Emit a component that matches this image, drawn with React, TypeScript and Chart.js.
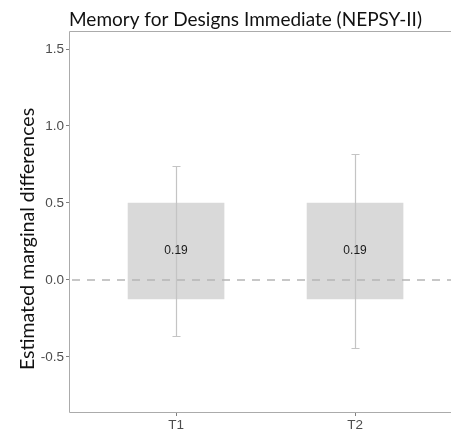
import React, { useEffect, useRef } from "react";
import { Chart, registerables } from "chart.js";

Chart.register(...registerables);

const categories = ["T1", "T2"];
const positions = [1, 2];
const boxLow = [-0.123, -0.123];
const boxHigh = [0.5, 0.5];
const ciLow = [-0.362, -0.444];
const ciHigh = [0.742, 0.82];
const estimates = [0.19, 0.19];
const estimateLabels = ["0.19", "0.19"];
const yTicks = [-0.5, 0, 0.5, 1.0, 1.5];

const titleText = "Memory for Designs Immediate (NEPSY-II)";
const yTitle = "Estimated marginal differences";

export default function App() {
  const ref = useRef<HTMLCanvasElement | null>(null);

  useEffect(() => {
    if (!ref.current) return;

    const decor = {
      id: "decor",
      beforeDatasetsDraw(chart: any) {
        const { ctx, chartArea } = chart;
        ctx.save();
        ctx.strokeStyle = "#ababab";
        ctx.lineWidth = 1;
        ctx.beginPath();
        ctx.moveTo(chartArea.right + 5, chartArea.top + 0.5);
        ctx.lineTo(chartArea.left + 0.5, chartArea.top + 0.5);
        ctx.lineTo(chartArea.left + 0.5, chartArea.bottom - 0.5);
        ctx.lineTo(chartArea.right + 5, chartArea.bottom - 0.5);
        ctx.stroke();
        ctx.restore();
      },
      afterDatasetsDraw(chart: any) {
        const { ctx, chartArea, scales } = chart;
        const x = scales.x;
        const y = scales.y;
        ctx.save();
        // dashed zero line
        ctx.strokeStyle = "#b5b5b5";
        ctx.lineWidth = 1.5;
        ctx.setLineDash([8, 7]);
        const y0 = y.getPixelForValue(0);
        ctx.beginPath();
        ctx.moveTo(chartArea.left + 3, y0);
        ctx.lineTo(chartArea.right, y0);
        ctx.stroke();
        ctx.setLineDash([]);
        // error bars
        ctx.strokeStyle = "#c4c4c4";
        ctx.lineWidth = 1.2;
        positions.forEach((p, i) => {
          const px = Math.round(x.getPixelForValue(p)) + 0.5;
          const yl = Math.round(y.getPixelForValue(ciLow[i])) + 0.5;
          const yh = Math.round(y.getPixelForValue(ciHigh[i])) + 0.5;
          ctx.beginPath();
          ctx.moveTo(px, yl);
          ctx.lineTo(px, yh);
          ctx.moveTo(px - 4, yl);
          ctx.lineTo(px + 4, yl);
          ctx.moveTo(px - 4, yh);
          ctx.lineTo(px + 4, yh);
          ctx.stroke();
        });
        // estimate labels
        ctx.fillStyle = "#1a1a1a";
        ctx.font = "12px 'Liberation Sans', Arial, sans-serif";
        ctx.textAlign = "center";
        ctx.textBaseline = "middle";
        positions.forEach((p, i) => {
          ctx.fillText(estimateLabels[i], x.getPixelForValue(p), y.getPixelForValue(estimates[i]));
        });
        // title
        ctx.fillStyle = "#111111";
        ctx.font = "19px Lato, 'Open Sans', sans-serif";
        ctx.textAlign = "left";
        ctx.textBaseline = "alphabetic";
        ctx.fillText(titleText, chartArea.left, 26);
        // y title
        ctx.save();
        ctx.font = "19.5px Lato, 'Open Sans', sans-serif";
        ctx.translate(34, 239);
        ctx.rotate(-Math.PI / 2);
        ctx.textAlign = "center";
        ctx.fillText(yTitle, 0, 0);
        ctx.restore();
        ctx.restore();
      },
    };

    const chart = new Chart(ref.current, {
      type: "bar",
      data: {
        datasets: [
          {
            data: positions.map((p, i) => ({ x: p, y: [boxLow[i], boxHigh[i]] })) as any,
            backgroundColor: "#d9d9d9",
            borderWidth: 0,
            barThickness: 96,
          },
        ],
      },
      options: {
        animation: false,
        responsive: true,
        maintainAspectRatio: false,
        layout: { padding: { top: 31, right: 0, left: 0, bottom: 0 } },
        plugins: {
          legend: { display: false },
          tooltip: { enabled: false },
          title: { display: false },
        },
        scales: {
          x: {
            type: "linear",
            offset: false,
            min: 0.402,
            max: 2.536,
            afterBuildTicks: (s: any) => {
              s.ticks = positions.map((v) => ({ value: v }));
            },
            afterFit: (s: any) => {
              s.height = 20;
            },
            ticks: {
              callback: (v: any) => {
                const i = positions.indexOf(Number(v));
                return i >= 0 ? categories[i] : "";
              },
              color: "#4d4d4d",
              font: { family: "'Liberation Sans', Arial, sans-serif", size: 13.5 },
              padding: 1,
              maxRotation: 0,
              autoSkip: false,
            },
            grid: { display: true, offset: false, drawOnChartArea: false, drawTicks: true, tickLength: 3, color: "#7f7f7f" },
            border: { display: false },
          },
          y: {
            type: "linear",
            min: -0.864,
            max: 1.617,
            afterBuildTicks: (s: any) => {
              s.ticks = yTicks.map((v) => ({ value: v }));
            },
            afterFit: (s: any) => {
              s.width = 69;
            },
            ticks: {
              callback: (v: any) => Number(v).toFixed(1),
              color: "#4d4d4d",
              font: { family: "'Liberation Sans', Arial, sans-serif", size: 13.5 },
              padding: 2,
            },
            grid: { display: true, drawOnChartArea: false, drawTicks: true, tickLength: 3, color: "#7f7f7f" },
            border: { display: false },
          },
        },
      },
      plugins: [decor],
    });

    return () => chart.destroy();
  }, []);

  return (
    <div style={{ position: "fixed", left: 0, top: 0, width: 451, height: 433, background: "#fff" }}>
      <canvas ref={ref} />
    </div>
  );
}
